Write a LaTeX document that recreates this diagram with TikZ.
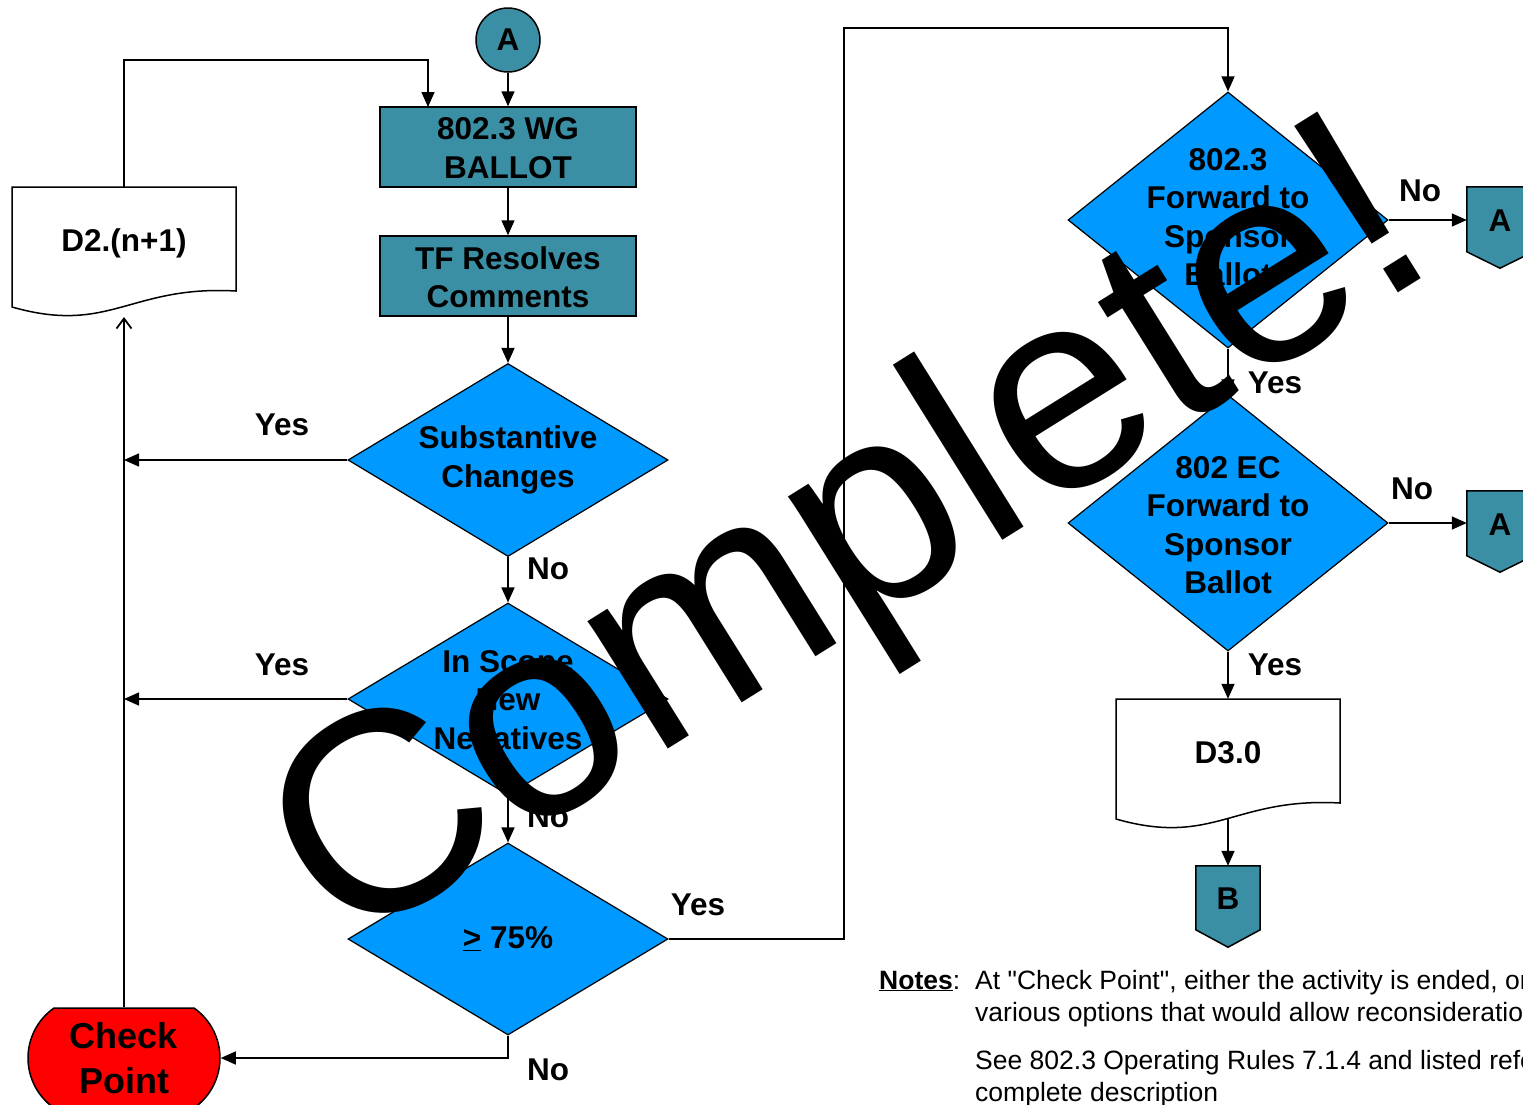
\documentclass[tikz,border=0pt]{standalone}
\usepackage{fontspec}
\setmainfont{Liberation Sans}[Ligatures=TeXOff]
\usetikzlibrary{shapes.geometric,shapes.misc,arrows.meta,calc}
\definecolor{tealbox}{RGB}{58,143,165}
\definecolor{diablue}{RGB}{0,153,255}
\definecolor{cpred}{RGB}{255,0,0}
\begin{document}
\begin{tikzpicture}[x=1pt,y=-1pt,
  lbl/.style={font=\bfseries\fontsize{31.5}{38.5}\selectfont, inner sep=0pt, align=center},
  notetxt/.style={font=\fontsize{26.5}{32}\selectfont, inner sep=0pt, anchor=base west},
  procbox/.style={rectangle, draw=black, line width=1.5pt, fill=tealbox, minimum width=256pt, minimum height=80pt, inner sep=0pt},
  decision/.style={diamond, draw=black, line width=1.2pt, fill=diablue, minimum width=320pt, inner sep=0pt},
  docline/.style={draw=black, line width=1.5pt, fill=white},
  offpage/.style={draw=black, line width=1.5pt, fill=tealbox},
  geom/.style={draw=none, inner sep=0pt},
  arr/.style={-{Triangle[length=15pt,width=13pt]}, line width=1.5pt},
  openarr/.style={-{Straight Barb[length=10pt,width=15pt,line width=1.8pt]}, line width=1.5pt},
]
\clip (0,0) rectangle (1523,1104);
\fill[white] (0,0) rectangle (1523,1104);

% connector A (top)
\node[circle, draw=black, line width=1.5pt, fill=tealbox, minimum size=64pt, inner sep=0pt, lbl] (ca) at (508,40) {A};

% process boxes
\node[procbox] (b1) at (508,147) {};
\node[lbl] (b1t) at (508,148) {802.3 WG\\BALLOT};
\node[procbox] (b2) at (508,276) {};
\node[lbl] (b2t) at (508,277) {TF Resolves\\Comments};

% decisions (left column)
\node[decision, minimum height=193pt] (d1) at (508,460) {};
\node[lbl] (d1t) at (508,460) {Substantive\\Changes};
\node[decision, minimum height=192pt] (d2) at (508,699) {};
\node[lbl] (d2t) at (508,703) {In Scope\\New\\Negatives};
\node[decision, minimum height=192pt] (d3) at (508,939) {};
\node[lbl] (d3t) at (508,939) {\underline{>} 75\%};

% check point
\node[rounded rectangle, rounded rectangle arc length=110, draw=black, line width=1.5pt, fill=cpred, minimum width=192pt, minimum height=100pt, inner sep=0pt,
      font=\bfseries\fontsize{36}{45}\selectfont, align=center] (cp) at (124,1058) {Check\\Point};

% document D2.(n+1)
\draw[docline] (12,187) -- (236,187) -- (236,291) .. controls (130,285) and (110,335) .. (12,307) -- cycle;
\node[geom, minimum width=224pt, minimum height=104pt] (docA) at (124,239) {};
\node[lbl] (docAt) at (124,243) {D2.(n+1)};
\coordinate (docAb) at (124,317);
\coordinate (b1in) at (428,107);

% right column decisions
\node[decision, minimum height=256pt] (d4) at (1228,220) {};
\node[lbl] (d4t) at (1228,217) {802.3\\Forward to\\Sponsor\\Ballot};
\node[decision, minimum height=256pt] (d5) at (1228,523) {};
\node[lbl] (d5t) at (1228,525) {802 EC\\Forward to\\Sponsor\\Ballot};

% off-page connectors A
\node[geom, minimum width=66pt, minimum height=81pt] (oa1) at (1500,227.5) {};
\draw[offpage] (oa1.north west) -- (oa1.north east) -- ++(0,65) -- (oa1.south) -- ($(oa1.north west)+(0,65)$) -- cycle;
\node[lbl] (oa1t) at (1500,221) {A};
\node[geom, minimum width=66pt, minimum height=81pt] (oa2) at (1500,531.5) {};
\draw[offpage] (oa2.north west) -- (oa2.north east) -- ++(0,65) -- (oa2.south) -- ($(oa2.north west)+(0,65)$) -- cycle;
\node[lbl] (oa2t) at (1500,525) {A};

% document D3.0
\draw[docline] (1116,699) -- (1340,699) -- (1340,803) .. controls (1234,797) and (1214,847) .. (1116,819) -- cycle;
\node[geom, minimum width=224pt, minimum height=104pt] (docB) at (1228,751) {};
\node[lbl] (docBt) at (1228,753) {D3.0};
\coordinate (docBb) at (1228,819);

% off-page connector B
\node[geom, minimum width=64pt, minimum height=81pt] (ob) at (1228,906.5) {};
\draw[offpage] (ob.north west) -- (ob.north east) -- ++(0,64) -- (ob.south) -- ($(ob.north west)+(0,64)$) -- cycle;
\node[lbl] (obt) at (1228,899) {B};

% connectors
\draw[arr] (ca.south) -- (b1.north);
\draw[arr] (b1.south) -- (b2.north);
\draw[arr] (b2.south) -- (d1.north);
\draw[arr] (d1.south) -- (d2.north);
\draw[arr] (d2.south) -- (d3.north);
\draw[arr] (d1.west) -- (d1.west -| cp.north);
\draw[arr] (d2.west) -- (d2.west -| cp.north);
\draw[arr] (d3.south) |- (cp.east);
\draw[openarr] (cp.north) -- (docAb);
\draw[arr] (docA.north) -- (docA.north |- 0,60) -| (b1in);
\draw[arr] (d3.east) -| (844,28) -| (d4.north);
\draw[arr] (d4.south) -- (d5.north);
\draw[arr] (d4.east) -- (d4.east -| oa1.west);
\draw[arr] (d5.east) -- (d5.east -| oa2.west);
\draw[arr] (d5.south) -- (docB.north);
\draw[arr] (docBb) -- (ob.north);

% labels
\node[lbl] (y1) at (282,425) {Yes};
\node[lbl] (y2) at (282,665) {Yes};
\node[lbl] (n1) at (548,569) {No};
\node[lbl] (n2) at (548,817) {No};
\node[lbl] (y3) at (698,905) {Yes};
\node[lbl] (n3) at (548,1070) {No};
\node[lbl] (n4) at (1420,191) {No};
\node[lbl] (y4) at (1275,383) {Yes};
\node[lbl] (n5) at (1412,489) {No};
\node[lbl] (y5) at (1275,665) {Yes};

% notes
\node[notetxt] (nl) at (879,989) {\textbf{\underline{Notes}}:};
\node[notetxt] (nt1) at (975,989) {At "Check Point", either the activity is ended, or};
\node[notetxt] (nt2) at (975,1021) {various options that would allow reconsideration};
\node[notetxt] (nt3) at (975,1069) {See 802.3 Operating Rules 7.1.4 and listed references};
\node[notetxt] (nt4) at (975,1101) {complete description};

% watermark
\node[rotate=32, anchor=base west, inner sep=0pt, font=\fontsize{285}{285}\selectfont] (wm) at (342,953) {Complete!};
\end{tikzpicture}
\end{document}
